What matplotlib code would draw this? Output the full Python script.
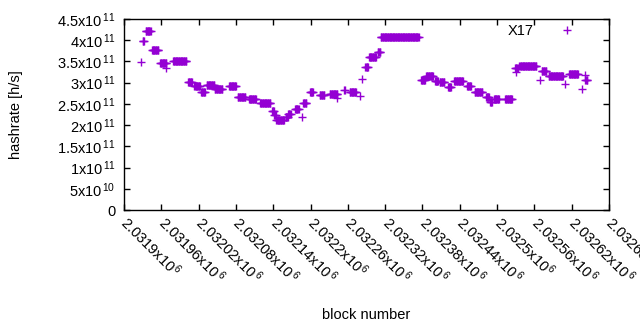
import matplotlib
matplotlib.use("Agg")
import matplotlib.pyplot as plt
from matplotlib.ticker import FixedLocator, FixedFormatter
import numpy as np

# run-length table: first block, last block, hashrate (x1e11 h/s)
seg_start = [2031927, 2031930, 2031935, 2031945, 2031958, 2031968, 2031979, 2032003,
             2032013, 2032024, 2032033, 2032046, 2032069, 2032083, 2032101, 2032119,
             2032138, 2032142, 2032145, 2032160, 2032164, 2032175, 2032187, 2032188,
             2032199, 2032215, 2032231, 2032242, 2032254, 2032263, 2032280, 2032283,
             2032288, 2032294, 2032308, 2032313, 2032378, 2032386, 2032400, 2032408,
             2032421, 2032431, 2032452, 2032464, 2032482, 2032489, 2032495, 2032513,
             2032530, 2032529, 2032536, 2032569, 2032572, 2032583, 2032610, 2032616,
             2032636, 2032641, 2032642]
seg_end = [2031927, 2031932, 2031943, 2031955, 2031968, 2031968, 2032000, 2032009,
           2032022, 2032030, 2032045, 2032058, 2032080, 2032095, 2032112, 2032135,
           2032141, 2032144, 2032157, 2032163, 2032168, 2032181, 2032187, 2032193,
           2032204, 2032222, 2032243, 2032242, 2032255, 2032273, 2032280, 2032283,
           2032292, 2032305, 2032312, 2032374, 2032384, 2032397, 2032405, 2032415,
           2032426, 2032445, 2032458, 2032476, 2032487, 2032492, 2032503, 2032524,
           2032530, 2032533, 2032563, 2032569, 2032579, 2032606, 2032610, 2032630,
           2032636, 2032641, 2032645]
seg_value = [3.49, 3.98, 4.21, 3.76, 3.46, 3.34, 3.52, 3.02,
             2.91, 2.78, 2.95, 2.86, 2.92, 2.655, 2.61, 2.53,
             2.33, 2.24, 2.13, 2.20, 2.26, 2.38, 2.20, 2.53,
             2.77, 2.70, 2.73, 2.65, 2.82, 2.79, 2.69, 3.08,
             3.36, 3.60, 3.72, 4.07, 3.07, 3.16, 3.05, 3.02,
             2.90, 3.05, 2.91, 2.78, 2.66, 2.55, 2.62, 2.61,
             3.26, 3.35, 3.40, 3.06, 3.27, 3.16, 2.96, 3.20,
             2.85, 3.18, 3.06]

xtick_vals = [2031900, 2031960, 2032020, 2032080, 2032140, 2032200, 2032260,
              2032320, 2032380, 2032440, 2032500, 2032560, 2032620, 2032680]
xtick_text = ["2.0319", "2.03196", "2.03202", "2.03208", "2.03214", "2.0322", "2.03226",
              "2.03232", "2.03238", "2.03244", "2.0325", "2.03256", "2.03262", "2.03268"]
ytick_vals = [0, 5e10, 1e11, 1.5e11, 2e11, 2.5e11, 3e11, 3.5e11, 4e11, 4.5e11]
ytick_text = ["0", "5x10$^{\\,10}$", "1x10$^{\\,11}$", "1.5x10$^{\\,11}$", "2x10$^{\\,11}$",
              "2.5x10$^{\\,11}$", "3x10$^{\\,11}$", "3.5x10$^{\\,11}$", "4x10$^{\\,11}$",
              "4.5x10$^{\\,11}$"]

blocks = []
rates = []
for s, e, v in zip(seg_start, seg_end, seg_value):
    for b in range(s, e + 1):
        blocks.append(b)
        rates.append(v * 1e11)

plt.rcParams['font.family'] = ['Liberation Sans', 'DejaVu Sans']
plt.rcParams['mathtext.fontset'] = 'custom'
plt.rcParams['mathtext.rm'] = 'Liberation Sans'
plt.rcParams['mathtext.it'] = 'Liberation Sans'

fig = plt.figure(figsize=(6.4, 3.3), dpi=100)
ax = fig.add_axes([124/640, 1 - 210/330, (609-124)/640, (210-19)/330])

ax.plot(blocks, rates, linestyle='none', marker='+', color='#9400d3',
        markersize=6, markeredgewidth=1.0, label='X17')

ax.set_xlim(2031900, 2032680)
ax.set_ylim(0, 4.5e11)
ax.xaxis.set_major_locator(FixedLocator(xtick_vals))
ax.xaxis.set_major_formatter(FixedFormatter([t + "x10$^{\\,6}$" for t in xtick_text]))
ax.yaxis.set_major_locator(FixedLocator(ytick_vals))
ax.yaxis.set_major_formatter(FixedFormatter(ytick_text))
ax.tick_params(direction='in', length=4, width=1, top=True, right=True,
               labelsize=10.5, colors='black')
ax.tick_params(axis='y', pad=6)
ax.tick_params(axis='x', pad=7)
for lab in ax.get_xticklabels():
    lab.set_rotation(-45)
    lab.set_ha('left')
    lab.set_va('center')
    lab.set_rotation_mode('anchor')
for sp in ax.spines.values():
    sp.set_linewidth(1)

ax.set_xlabel('block number', fontsize=10.5)
ax.set_ylabel('hashrate [h/s]', fontsize=10.5)
ax.xaxis.set_label_coords(0.5, -0.515)
ax.yaxis.set_label_coords(-0.208, 0.5)

ax.legend(loc='upper right', bbox_to_anchor=(0.962, 1.01), frameon=False, markerfirst=False,
          fontsize=10.5, handlelength=2.2, handletextpad=1.2, borderpad=0.0)

fig.savefig('out.png', dpi=100)
